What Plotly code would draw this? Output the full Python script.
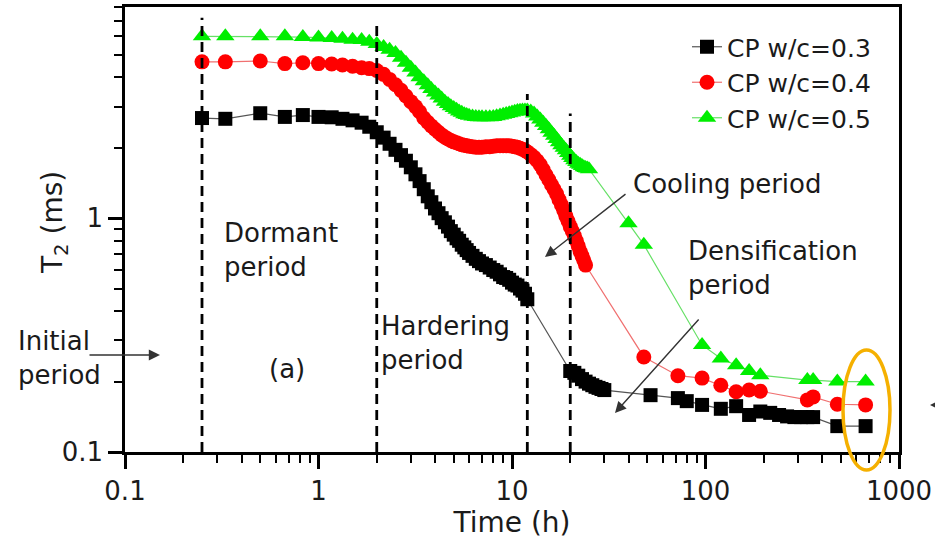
import plotly.graph_objects as go

# ---------------- data ----------------
t_dense = [0.25, 0.33, 0.5, 0.67, 0.83, 1.0, 1.17, 1.33, 1.5, 1.67, 1.83,
           2.0, 2.17, 2.33, 2.5, 2.67, 2.83,
           3.0, 3.17, 3.33, 3.5, 3.67, 3.83,
           4.0, 4.17, 4.33, 4.5, 4.67, 4.83,
           5.0, 5.17, 5.33, 5.5, 5.67, 5.83,
           6.0, 6.25, 6.5, 6.75,
           7.0, 7.33, 7.67,
           8.0, 8.33, 8.67,
           9.0, 9.33, 9.67,
           10.0, 10.33, 10.67,
           11.0, 11.33, 11.67,
           12.0]

t_w03 = t_dense + [20, 21, 22, 23, 24, 25, 26, 27, 28, 29, 30,
                   52, 72, 80, 96, 120, 144, 168, 192, 216, 240, 264, 288,
                   312, 336, 360, 480, 672]
T2_w03 = [2.68, 2.66, 2.81, 2.71, 2.76, 2.71, 2.70, 2.66, 2.62, 2.56, 2.46,
          2.33, 2.21, 2.08, 1.96, 1.86, 1.76,
          1.65, 1.54, 1.44, 1.33, 1.24, 1.17,
          1.10, 1.05, 1.00, 0.96, 0.92, 0.88,
          0.85, 0.82, 0.80, 0.77, 0.75, 0.73,
          0.71, 0.69, 0.67, 0.655,
          0.64, 0.63, 0.615,
          0.60, 0.59, 0.575,
          0.56, 0.555, 0.545,
          0.53, 0.52, 0.515,
          0.50, 0.49, 0.475,
          0.45,
          0.222, 0.218, 0.212, 0.205, 0.200, 0.196, 0.193, 0.190, 0.188, 0.186, 0.184,
          0.175, 0.170, 0.165, 0.159, 0.153, 0.157, 0.144, 0.149, 0.147, 0.144,
          0.142, 0.141, 0.141, 0.141, 0.141, 0.129, 0.129]

t_w04 = t_dense + [12.5, 13, 13.5, 14, 14.5, 15, 15.5, 16, 16.5, 17, 17.5, 18,
                   18.5, 19, 19.5, 20, 20.5, 21, 21.5, 22, 22.5, 23, 23.5, 24,
                   48, 72, 96, 120, 144, 168, 192, 336, 360, 480, 672]
T2_w04 = [4.66, 4.66, 4.70, 4.58, 4.62, 4.58, 4.56, 4.52, 4.46, 4.40, 4.36,
          4.28, 4.12, 3.92, 3.72, 3.52, 3.33,
          3.15, 3.00, 2.85, 2.68, 2.57, 2.48,
          2.40, 2.33, 2.27, 2.22, 2.18, 2.15,
          2.12, 2.10, 2.08, 2.06, 2.05, 2.04,
          2.03, 2.02, 2.01, 2.01,
          2.01, 2.02, 2.02,
          2.03, 2.04, 2.04,
          2.04, 2.04, 2.04,
          2.03, 2.02, 2.01,
          1.99, 1.97, 1.95,
          1.92,
          1.87, 1.82, 1.76, 1.69, 1.61, 1.53, 1.46, 1.39, 1.33, 1.27, 1.20, 1.14,
          1.08, 1.02, 0.97, 0.92, 0.88, 0.84, 0.80, 0.76, 0.72, 0.69, 0.66, 0.63,
          0.255, 0.212, 0.207, 0.193, 0.181, 0.184, 0.182, 0.167, 0.172, 0.160, 0.159]

t_w05 = t_dense + [12.5, 13, 13.5, 14, 14.5, 15, 15.5, 16, 16.5, 17, 17.5, 18,
                   18.5, 19, 19.5, 20, 20.5, 21, 21.5, 22, 22.5, 23, 23.5, 24,
                   24.5, 25,
                   40, 48, 96, 120, 144, 168, 192, 336, 360, 480, 672]
T2_w05 = [5.99, 5.99, 5.99, 5.99, 5.95, 5.92, 5.90, 5.85, 5.80, 5.78, 5.68,
          5.55, 5.40, 5.25, 5.08, 4.85, 4.62,
          4.40, 4.20, 4.00, 3.85, 3.70, 3.57,
          3.45, 3.35, 3.25, 3.15, 3.08, 3.01,
          2.96, 2.91, 2.86, 2.82, 2.78, 2.76,
          2.74, 2.72, 2.71, 2.70,
          2.70, 2.70, 2.70,
          2.71, 2.73, 2.75,
          2.77, 2.79, 2.81,
          2.83, 2.85, 2.87,
          2.88, 2.89, 2.89,
          2.89,
          2.86, 2.80, 2.72, 2.64, 2.56, 2.48, 2.40, 2.32, 2.25, 2.18, 2.11, 2.05,
          2.00, 1.95, 1.90, 1.85, 1.81, 1.77, 1.74, 1.71, 1.69, 1.67, 1.65, 1.64,
          1.63, 1.62,
          0.95, 0.77, 0.287, 0.251, 0.235, 0.222, 0.213, 0.203, 0.203, 0.200, 0.200]

series_names = ["CP w/c=0.3", "CP w/c=0.4", "CP w/c=0.5"]
period_bounds = [0.25, 2, 12, 20]

x_ticks = [0.1, 1, 10, 100, 1000]
x_tick_labels = ["0.1", "1", "10", "100", "1000"]
y_ticks = [0.1, 1]
y_tick_labels = ["0.1", "1"]

# ---------------- figure ----------------
W, H = 935, 540
L, R, T, B = 125, 36, 7, 88
PW, PH = W - L - R, H - T - B
FONT = "DejaVu Sans"
FS = 26
TXT_COLOR = "#1a1a1a"


def px(X):
    return (X - L) / PW


def py(Y):
    return (H - B - Y) / PH


fig = go.Figure()

fig.add_trace(go.Scatter(
    x=t_w03, y=T2_w03, name=series_names[0], mode="lines+markers",
    line=dict(color="#555555", width=1.2),
    marker=dict(symbol="square", size=14, color="#000000", line=dict(width=0))))
fig.add_trace(go.Scatter(
    x=t_w04, y=T2_w04, name=series_names[1], mode="lines+markers",
    line=dict(color="#f07070", width=1.2),
    marker=dict(symbol="circle", size=15, color="#ff0000", line=dict(width=0))))
fig.add_trace(go.Scatter(
    x=t_w05, y=T2_w05, name=series_names[2], mode="lines+markers",
    line=dict(color="#66e066", width=1.2),
    marker=dict(symbol="triangle-up", size=16, color="#00ee00", line=dict(width=0))))

# dashed period boundaries
tops = [7.2, 6.9, 3.4, 2.8]
for xb, top in zip(period_bounds, tops):
    fig.add_shape(type="line", xref="x", yref="y", x0=xb, x1=xb, y0=0.1, y1=top,
                  line=dict(color="black", width=2.8, dash="10px,6px"), layer="above")

# orange ellipse highlighting the last points
fig.add_shape(type="circle", xref="paper", yref="paper",
              x0=px(843), x1=px(890), y0=py(470), y1=py(350),
              line=dict(color="#f5b000", width=3.5), layer="above")

txt = dict(family=FONT, size=FS, color=TXT_COLOR)


def label(text, X, Y, xanchor="left", **kw):
    fig.add_annotation(text=text, x=px(X), y=py(Y), xref="paper", yref="paper",
                       showarrow=False, xanchor=xanchor, yanchor="middle",
                       align="left", font=kw.pop("font", txt), **kw)


def arrow(X0, Y0, X1, Y1):
    fig.add_annotation(text="", x=px(X1), y=py(Y1), xref="paper", yref="paper",
                       ax=X0 - X1, ay=Y0 - Y1, showarrow=True,
                       arrowhead=2, arrowsize=1.6, arrowwidth=1.4, arrowcolor="#333333")


label("Dormant<br>period", 222, 250)
label("Hardering<br>period", 379, 343)
label("(a)", 287, 369, xanchor="center")
label("Initial<br>period", 16, 358)
label("Cooling period", 631, 184)
label("Densification<br>period", 686, 268)

# y-axis title placed like the reference (overlaps the tick-label column)
label("T<sub>2</sub> (ms)", 54, 223, xanchor="center", textangle=-90,
      font=dict(family=FONT, size=28, color=TXT_COLOR))

arrow(88, 355, 160, 355)
arrow(627, 193, 545, 257)
arrow(700, 318, 615, 413)
arrow(975, 405, 930, 405)

x_minor = [m * 10 ** e for e in range(-1, 3) for m in range(2, 10)]
y_minor = [m * 10 ** e for e in range(-1, 1) for m in range(2, 10)]

axis_common = dict(
    showline=True, linecolor="black", linewidth=2.5, mirror=True,
    ticks="outside", ticklen=14, tickwidth=2.5, tickcolor="black",
    showgrid=False, zeroline=False,
    tickfont=dict(family=FONT, size=FS, color=TXT_COLOR),
)

fig.update_xaxes(
    type="log", range=[-1, 3], tickmode="array", tickvals=x_ticks, ticktext=x_tick_labels,
    title=dict(text="Time (h)", font=dict(family=FONT, size=28, color=TXT_COLOR), standoff=2),
    minor=dict(tickmode="array", tickvals=x_minor, ticks="outside", ticklen=8,
               tickwidth=2, tickcolor="black", showgrid=False),
    **axis_common)
fig.update_yaxes(
    type="log", range=[-1, 0.903], tickmode="array", tickvals=y_ticks, ticktext=y_tick_labels,
    minor=dict(tickmode="array", tickvals=y_minor, ticks="outside", ticklen=8,
               tickwidth=2, tickcolor="black", showgrid=False),
    **axis_common)

fig.update_layout(
    width=W, height=H, margin=dict(l=L, r=R, t=T, b=B, autoexpand=False),
    paper_bgcolor="white", plot_bgcolor="white",
    showlegend=True,
    legend=dict(x=px(687), y=py(24), xanchor="left", yanchor="top",
                bgcolor="rgba(0,0,0,0)", borderwidth=0,
                font=dict(family=FONT, size=25, color=TXT_COLOR),
                itemwidth=30, tracegroupgap=0),
)

fig.write_html("out.html")
